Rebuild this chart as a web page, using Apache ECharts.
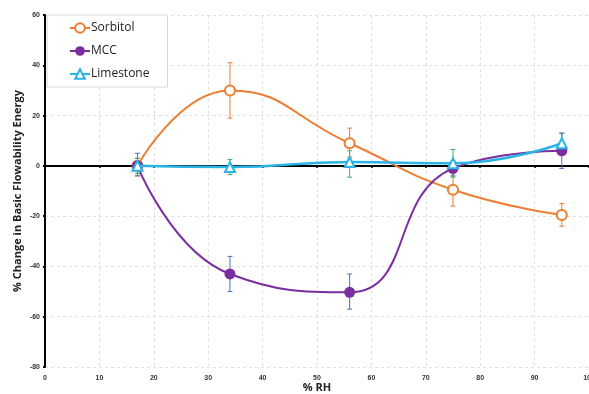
<!DOCTYPE html>
<html>
<head>
<meta charset="utf-8">
<script src="https://cdn.jsdelivr.net/npm/echarts@6/dist/echarts.min.js"></script>
<style>
  html, body { margin: 0; padding: 0; background: #fff; }
  #chart { width: 589px; height: 394px; }
</style>
</head>
<body>
<div id="chart"></div>
<script>
// % RH values
var rh = [17, 34, 56, 75, 95];

// % change in basic flowability energy, with error bar ends
var sorbitol = [0, 30, 9, -9.5, -19.5];
var sorbitolLow = [-4, 19, 3.5, -16, -24];
var sorbitolHigh = [3, 41, 15, -3, -15];

var mcc = [0, -43, -50.3, -1, 6];
var mccLow = [-4, -50, -57, -4, -1];
var mccHigh = [5, -36, -43, 2, 13];

var limestone = [0, -0.5, 1.5, 1, 9];
var limestoneLow = [-3, -3.5, -4.5, -4.5, 5];
var limestoneHigh = [3, 2.5, 6, 6.5, 13];

var colors = {
    sorbitol: '#ED7D31',
    mcc: '#7B2F9E',
    limestone: '#2BB3E3',
    sorbitolErr: '#ED7D31',
    mccErr: '#4472C4',
    limestoneErr: '#3CB371'
};

function pairs(xs, ys) {
    var out = [];
    for (var i = 0; i < xs.length; i++) {
        out.push([xs[i], ys[i]]);
    }
    return out;
}

function errData(xs, lo, hi) {
    var out = [];
    for (var i = 0; i < xs.length; i++) {
        out.push([xs[i], lo[i], hi[i]]);
    }
    return out;
}

// error bars drawn through the axes' own scales
function errorSeries(name, data, color) {
    return {
        name: name,
        type: 'custom',
        data: data,
        z: 3,
        encode: { x: 0, y: [1, 2] },
        renderItem: function (params, api) {
            var x = api.value(0);
            var lo = api.coord([x, api.value(1)]);
            var hi = api.coord([x, api.value(2)]);
            var cap = 2.5;
            var style = { stroke: color, lineWidth: 1 };
            return {
                type: 'group',
                children: [
                    { type: 'line', shape: { x1: lo[0], y1: lo[1], x2: hi[0], y2: hi[1] }, style: style },
                    { type: 'line', shape: { x1: lo[0] - cap, y1: lo[1], x2: lo[0] + cap, y2: lo[1] }, style: style },
                    { type: 'line', shape: { x1: hi[0] - cap, y1: hi[1], x2: hi[0] + cap, y2: hi[1] }, style: style }
                ]
            };
        }
    };
}

var myChart = echarts.init(document.getElementById('chart'));

var labelFont = {
    fontFamily: 'Liberation Sans',
    fontWeight: 'bold',
    fontSize: 7,
    color: '#333'
};

var option = {
    animation: false,
    grid: { left: 45, right: 0, top: 15, bottom: 27, outerBoundsMode: 'none', containLabel: false },
    legend: {
        data: ['Sorbitol', 'MCC', 'Limestone'],
        orient: 'vertical',
        left: 47,
        top: 15,
        padding: [7, 18, 7, 22],
        itemGap: 11,
        itemWidth: 20,
        itemHeight: 12,
        backgroundColor: '#fff',
        borderColor: '#d9d9d9',
        borderWidth: 1,
        textStyle: { fontFamily: 'Open Sans', fontSize: 12, color: '#222', padding: [0, 0, 0, -4] }
    },
    xAxis: [{
        type: 'value',
        min: 0,
        max: 100,
        interval: 10,
        name: '% RH',
        nameLocation: 'middle',
        nameGap: 21,
        nameMoveOverlap: false,
        nameTextStyle: { fontFamily: 'Open Sans', fontWeight: 'bold', fontSize: 11, color: '#222', verticalAlign: 'middle' },
        axisLine: { show: false, onZero: false },
        axisTick: { show: false },
        axisLabel: Object.assign({ margin: 8 }, labelFont),
        splitLine: { show: true, lineStyle: { color: '#e0e0e0', type: [3, 3], width: 1 } }
    }, {
        type: 'value',
        min: 0,
        max: 100,
        interval: 10,
        position: 'bottom',
        axisLine: { show: true, onZero: true, lineStyle: { color: '#000', width: 2 } },
        axisTick: { show: true, length: 2, lineStyle: { color: '#000', width: 2 } },
        axisLabel: { show: false },
        splitLine: { show: false }
    }],
    yAxis: {
        type: 'value',
        min: -80,
        max: 60,
        interval: 20,
        name: '% Change in Basic Flowability Energy',
        nameLocation: 'middle',
        nameGap: 22,
        nameMoveOverlap: false,
        nameTextStyle: { fontFamily: 'Open Sans', fontWeight: 'bold', fontSize: 11, color: '#222' },
        axisLine: { show: true, onZero: false, lineStyle: { color: '#000', width: 2 } },
        axisTick: { show: true, length: 2, lineStyle: { color: '#000', width: 2 } },
        axisLabel: Object.assign({ margin: 5 }, labelFont),
        splitLine: { show: true, lineStyle: { color: '#e0e0e0', type: [3, 3], width: 1 } }
    },
    series: [
        errorSeries('sorbitolErr', errData(rh, sorbitolLow, sorbitolHigh), colors.sorbitolErr),
        errorSeries('limestoneErr', errData(rh, limestoneLow, limestoneHigh), colors.limestoneErr),
        errorSeries('mccErr', errData(rh, mccLow, mccHigh), colors.mccErr),
        {
            name: 'Sorbitol',
            type: 'line',
            smooth: 0.5,
            data: pairs(rh, sorbitol),
            symbol: 'emptyCircle',
            symbolSize: 10,
            z: 4,
            lineStyle: { color: colors.sorbitol, width: 2 },
            itemStyle: { color: colors.sorbitol, borderWidth: 1.5 }
        },
        {
            name: 'MCC',
            type: 'line',
            smooth: 0.5,
            data: pairs(rh, mcc),
            symbol: 'circle',
            symbolSize: 11,
            z: 4,
            lineStyle: { color: colors.mcc, width: 2 },
            itemStyle: { color: colors.mcc }
        },
        {
            name: 'Limestone',
            type: 'line',
            smooth: 0.5,
            data: pairs(rh, limestone),
            symbol: 'emptyTriangle',
            symbolSize: 10,
            z: 5,
            lineStyle: { color: colors.limestone, width: 2.5 },
            itemStyle: { color: colors.limestone, borderWidth: 2 }
        }
    ]
};

myChart.setOption(option);
</script>
</body>
</html>
